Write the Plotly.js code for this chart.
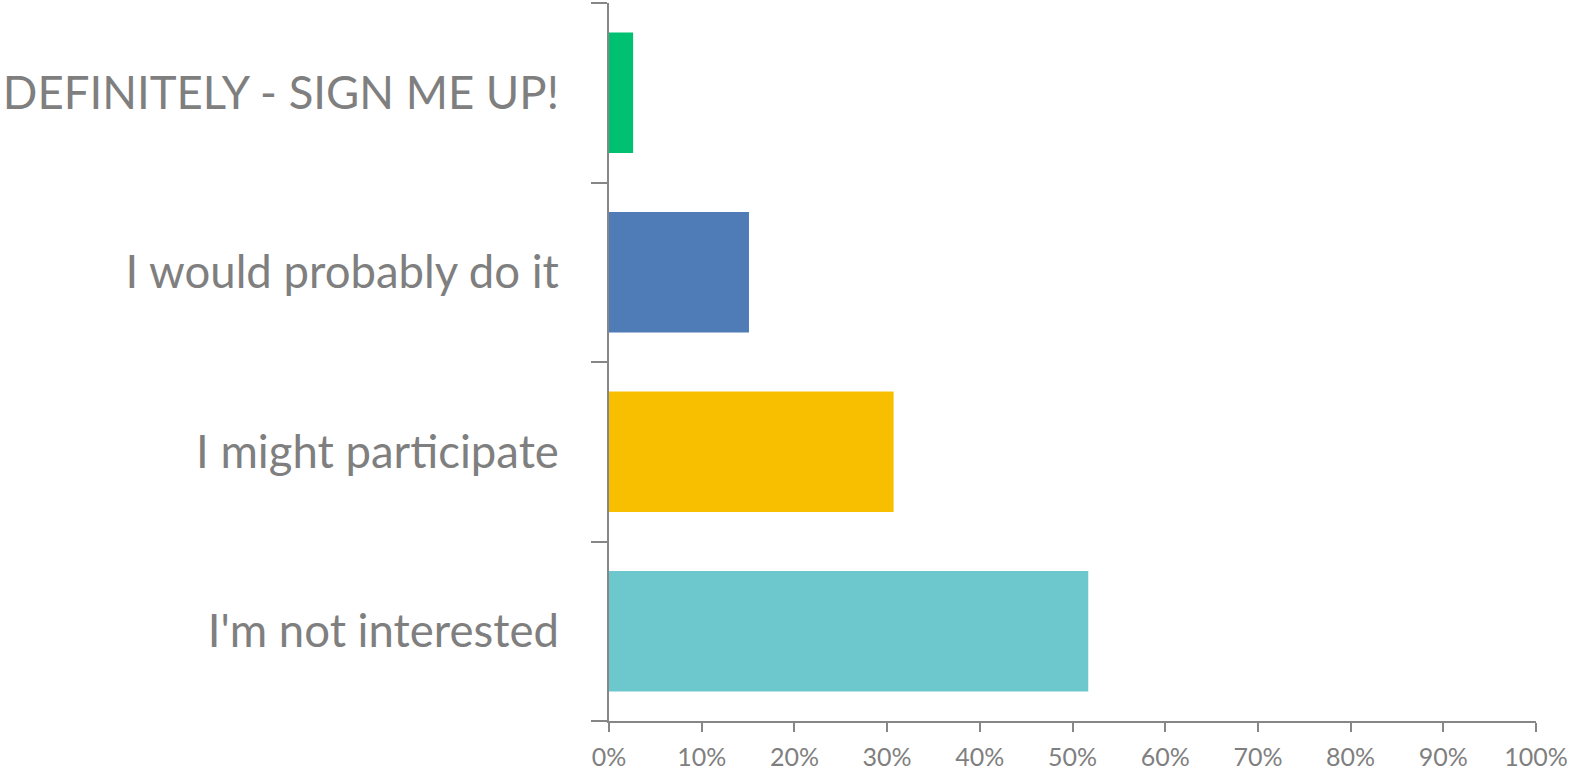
<!DOCTYPE html>
<html>
<head>
<meta charset="utf-8">
<script src="https://cdn.plot.ly/plotly-3.0.1.min.js"></script>
<style>html,body{margin:0;padding:0;background:#fff;}#chart{width:1571px;height:773px;}</style>
</head>
<body>
<div id="chart"></div>
<script>
const categories = ["I'm not interested", "I might participate", "I would probably do it", "DEFINITELY - SIGN ME UP!"];
const shares = [0.517, 0.307, 0.151, 0.026];
const barColors = ["#6CC8CC", "#F8BE00", "#4F7CB6", "#00C072"];

const trace = {
  type: 'bar',
  orientation: 'h',
  y: categories,
  x: shares,
  marker: {color: barColors},
  hoverinfo: 'x+y'
};

const gray = '#868686';
const layout = {
  width: 1571,
  height: 773,
  margin: {l: 609, r: 35, t: 3, b: 52, pad: 0},
  paper_bgcolor: '#fff',
  plot_bgcolor: '#fff',
  showlegend: false,
  bargap: 0.33,
  font: {family: 'Lato, "Open Sans", sans-serif', color: '#7F7F7F'},
  xaxis: {
    range: [0, 1],
    dtick: 0.1,
    tick0: 0,
    tickformat: '.0%',
    showgrid: false,
    zeroline: false,
    showline: true,
    linecolor: gray,
    linewidth: 2,
    ticks: 'outside',
    ticklen: 9,
    tickwidth: 2,
    tickcolor: gray,
    tickfont: {size: 25, color: '#7F7F7F'},
    ticklabelstandoff: 4,
    fixedrange: true
  },
  yaxis: {
    type: 'category',
    categoryorder: 'array',
    categoryarray: categories,
    showgrid: false,
    zeroline: false,
    showline: true,
    linecolor: gray,
    linewidth: 2,
    ticks: 'outside',
    tickson: 'boundaries',
    ticklen: 16,
    tickwidth: 2,
    tickcolor: gray,
    tickfont: {size: 45.5, color: '#7F7F7F'},
    ticklabelstandoff: 39,
    fixedrange: true
  }
};

Plotly.newPlot('chart', [trace], layout, {displayModeBar: false, staticPlot: true});
</script>
</body>
</html>
